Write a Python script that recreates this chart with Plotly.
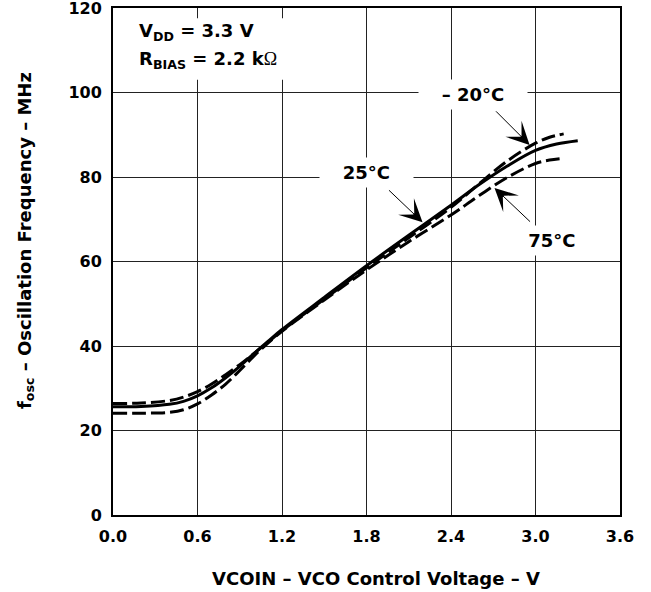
import plotly.graph_objects as go

# ---- data ----
v_25 = [0, 0.2, 0.4, 0.5, 0.6, 0.7, 0.8, 0.9, 1.0, 1.1, 1.2, 1.5, 1.8, 2.1, 2.4, 2.6, 2.8, 3.0, 3.15, 3.3]
f_25 = [25.6, 25.7, 26.2, 26.9, 28.2, 30.1, 32.5, 35.2, 38.2, 41.1, 43.9, 51.5, 59.0, 66.2, 73.3, 78.2, 82.6, 86.3, 87.8, 88.6]

v_m20 = [0, 0.2, 0.4, 0.5, 0.6, 0.7, 0.8, 0.9, 1.0, 1.1, 1.2, 1.5, 1.8, 2.1, 2.4, 2.6, 2.8, 3.0, 3.1, 3.2]
f_m20 = [26.4, 26.5, 27.1, 27.9, 29.2, 31.0, 33.2, 35.6, 38.2, 40.9, 43.6, 51.1, 58.5, 65.6, 72.8, 78.4, 83.8, 88.0, 89.4, 90.2]

v_75 = [0, 0.2, 0.4, 0.5, 0.6, 0.7, 0.8, 0.9, 1.0, 1.1, 1.2, 1.5, 1.8, 2.1, 2.4, 2.6, 2.8, 3.0, 3.1, 3.2]
f_75 = [24.1, 24.1, 24.3, 24.9, 26.3, 28.4, 31.0, 34.2, 37.6, 40.7, 43.5, 50.9, 58.0, 64.7, 71.0, 75.6, 79.9, 83.2, 84.0, 84.4]

x_ticks = [0.0, 0.6, 1.2, 1.8, 2.4, 3.0, 3.6]
x_tick_labels = ["0.0", "0.6", "1.2", "1.8", "2.4", "3.0", "3.6"]
y_ticks = [0, 20, 40, 60, 80, 100, 120]
y_tick_labels = ["0", "20", "40", "60", "80", "100", "120"]

FONT = "'DejaVu Sans', Arial, sans-serif"
NB = "\u00a0"

fig = go.Figure()
fig.add_trace(go.Scatter(x=v_m20, y=f_m20, mode="lines", name="-20°C",
                         line=dict(color="black", width=3, dash="14px,5px", shape="spline")))
fig.add_trace(go.Scatter(x=v_75, y=f_75, mode="lines", name="75°C",
                         line=dict(color="black", width=3, dash="14px,5px", shape="spline")))
fig.add_trace(go.Scatter(x=v_25, y=f_25, mode="lines", name="25°C",
                         line=dict(color="black", width=3, shape="spline")))

# white box behind the condition text (hides grid)
fig.add_shape(type="rect", x0=0.03, x1=1.36, y0=103.0, y1=117.6, xref="x", yref="y",
              fillcolor="white", line=dict(width=0), layer="between")

annos = []
annos.append(dict(x=0.167, y=114.4, xref="x", yref="y", xanchor="left", yanchor="middle",
                  showarrow=False, text="V<sub>DD</sub> = 3.3 V",
                  font=dict(family=FONT, size=18, color="black")))
annos.append(dict(x=0.167, y=107.6, xref="x", yref="y", xanchor="left", yanchor="middle",
                  showarrow=False,
                  text="R<sub>BIAS</sub> = 2.2 k<span style='font-family:Liberation Serif;font-weight:normal'>Ω</span>",
                  font=dict(family=FONT, size=18, color="black")))
# curve labels
annos.append(dict(x=2.553, y=99.6, xref="x", yref="y", showarrow=False, bgcolor="white",
                  borderpad=4, text=NB * 3 + "– 20°C" + NB * 3,
                  font=dict(family=FONT, size=18, color="black")))
annos.append(dict(x=1.80, y=81.0, xref="x", yref="y", showarrow=False, bgcolor="white",
                  borderpad=4, text=NB * 3 + "25°C" + NB * 3,
                  font=dict(family=FONT, size=18, color="black")))
annos.append(dict(x=3.12, y=65.0, xref="x", yref="y", showarrow=False, bgcolor="white",
                  borderpad=4, text=NB + "75°C" + NB,
                  font=dict(family=FONT, size=18, color="black")))
# arrows (tail -> tip)
for tail, tip in [((2.709, 95.9), (2.958, 87.6)),
                  ((1.949, 77.2), (2.198, 69.3)),
                  ((2.972, 69.1), (2.709, 77.4))]:
    annos.append(dict(x=tip[0], y=tip[1], ax=tail[0], ay=tail[1], xref="x", yref="y",
                      axref="x", ayref="y", text="", showarrow=True, arrowhead=3,
                      arrowsize=3.8, arrowwidth=1, arrowcolor="black"))
# axis titles
annos.append(dict(x=-0.172, y=0.542, xref="paper", yref="paper", textangle=-90,
                  showarrow=False, xanchor="center", yanchor="middle",
                  text="f<sub>osc</sub> – Oscillation Frequency – MHz",
                  font=dict(family=FONT, size=18, color="black")))
annos.append(dict(x=0.518, y=-0.126, xref="paper", yref="paper",
                  showarrow=False, xanchor="center", yanchor="middle",
                  text="VCOIN – VCO Control Voltage – V",
                  font=dict(family=FONT, size=18, color="black")))

axis_common = dict(showgrid=True, gridcolor="#222", gridwidth=1, zeroline=False,
                   showline=True, linecolor="black", linewidth=2, mirror=True,
                   automargin=False, ticklabeloverflow="allow",
                   ticks="", tickfont=dict(family=FONT, size=16, color="black"))

fig.update_layout(
    width=651, height=592,
    margin=dict(l=113, r=31, t=8, b=77),
    plot_bgcolor="white", paper_bgcolor="white",
    showlegend=False,
    font=dict(family=FONT, color="black"),
    annotations=annos,
    xaxis=dict(range=[0, 3.6], tickvals=x_ticks, ticktext=["<b>%s</b>" % t for t in x_tick_labels],
               ticklabelstandoff=6, **axis_common),
    yaxis=dict(range=[0, 120], tickvals=y_ticks, ticktext=["<b>%s</b>" % t for t in y_tick_labels],
               ticklabelstandoff=6, **axis_common),
)
for a in fig.layout.annotations:
    if a.text:
        a.text = "<b>" + a.text + "</b>"

fig.write_html("out.html")
